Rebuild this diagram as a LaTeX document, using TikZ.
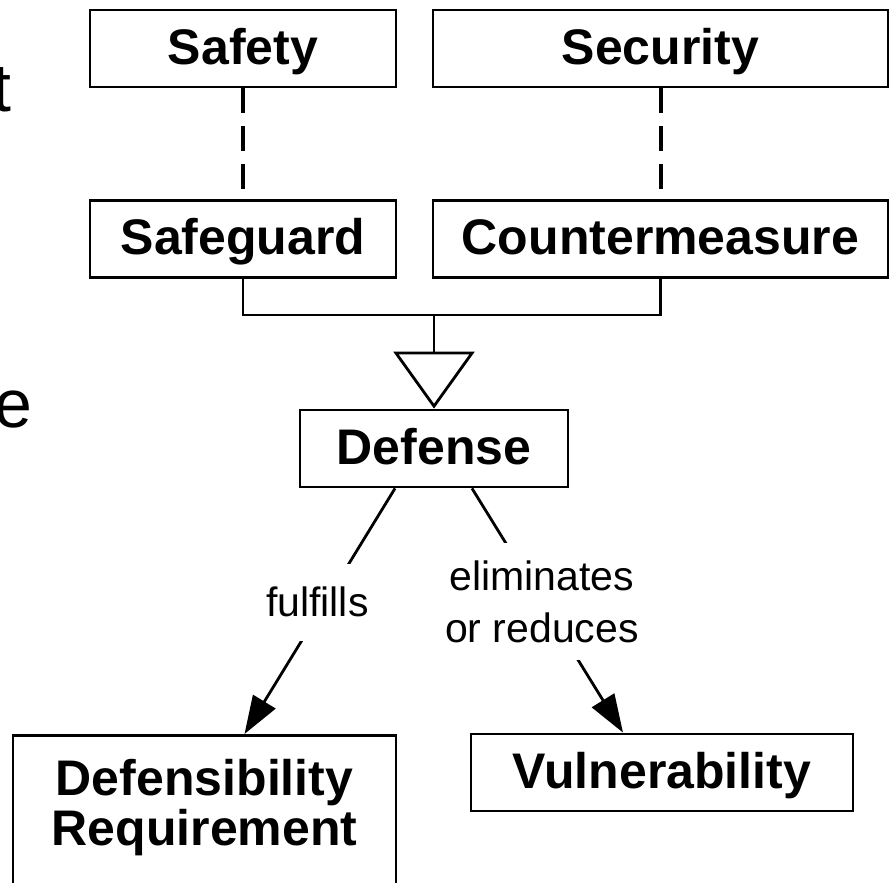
\documentclass[tikz,border=0pt]{standalone}
\usepackage{fontspec}
\setmainfont{Liberation Sans}
\usetikzlibrary{arrows.meta}

\begin{document}
\begin{tikzpicture}[x=0.5pt, y=-0.5pt, line width=1.4pt,
    box/.style={draw, inner sep=0pt, minimum height=38.5pt, text height=18pt, text depth=2pt,
        font=\fontsize{25}{25}\selectfont\bfseries},
    tallbox/.style={draw, inner xsep=0pt, inner ysep=12pt, align=center,
        font=\fontsize{25}{25}\selectfont\bfseries},
    lbl/.style={fill=white, inner xsep=2pt, align=center, font=\fontsize{20.5}{26}\selectfont},
    bigletter/.style={inner sep=0pt, font=\fontsize{34}{40}\selectfont},
    dashline/.style={line width=2pt, dash pattern=on 12.5pt off 6.5pt},
    assoc/.style={-{Triangle[length=19pt,width=13pt]}}]
    \useasboundingbox (0,0) rectangle (890,883);

    % Cut-off letters at the left edge
    \node[bigletter, anchor=base east] (lettert) at (13,112) {t};
    \node[bigletter, anchor=base east] (lettere) at (34,427) {e};

    % Top row
    \node[box, minimum width=153pt] (safety) at (243,48.5) {Safety};
    \node[box, minimum width=227.5pt] (security) at (660.5,48.5) {Security};

    % Second row
    \node[box, minimum width=153pt] (safeguard) at (243,239) {Safeguard};
    \node[box, minimum width=227.5pt] (counter) at (660.5,239) {Countermeasure};
    \draw[dashline] (safety) -- (safeguard);
    \draw[dashline] (security) -- (counter);

    % Generalisation to Defense
    \node[box, minimum width=134pt] (defense) at (434,448.5) {Defense};
    \coordinate (join) at (434,315);
    \draw (safeguard.south) |- (join) -| (counter.south);
    \draw[-{Triangle[open,length=28.5pt,width=40.5pt]}] (join) -- (defense.north);

    % Bottom row
    \node[tallbox, anchor=north, minimum width=191.5pt] (defreq) at (204.5,734)
        {Defensibility\\Requirement\rule[-14pt]{0pt}{0pt}};
    \node[box, minimum width=191pt] (vuln) at (662,772.5) {Vulnerability};

    % Associations
    \draw[assoc] ([xshift=-19.5pt]defense.south) -- node[lbl, pos=0.463, inner ysep=11.75pt, xshift=-4pt] {fulfills}
        ([xshift=20pt]defreq.north);
    \draw[assoc] ([xshift=19pt]defense.south) -- node[lbl, pos=0.463, inner ysep=8.5pt] {eliminates\\or reduces}
        ([xshift=-19.5pt]vuln.north);
\end{tikzpicture}
\end{document}
